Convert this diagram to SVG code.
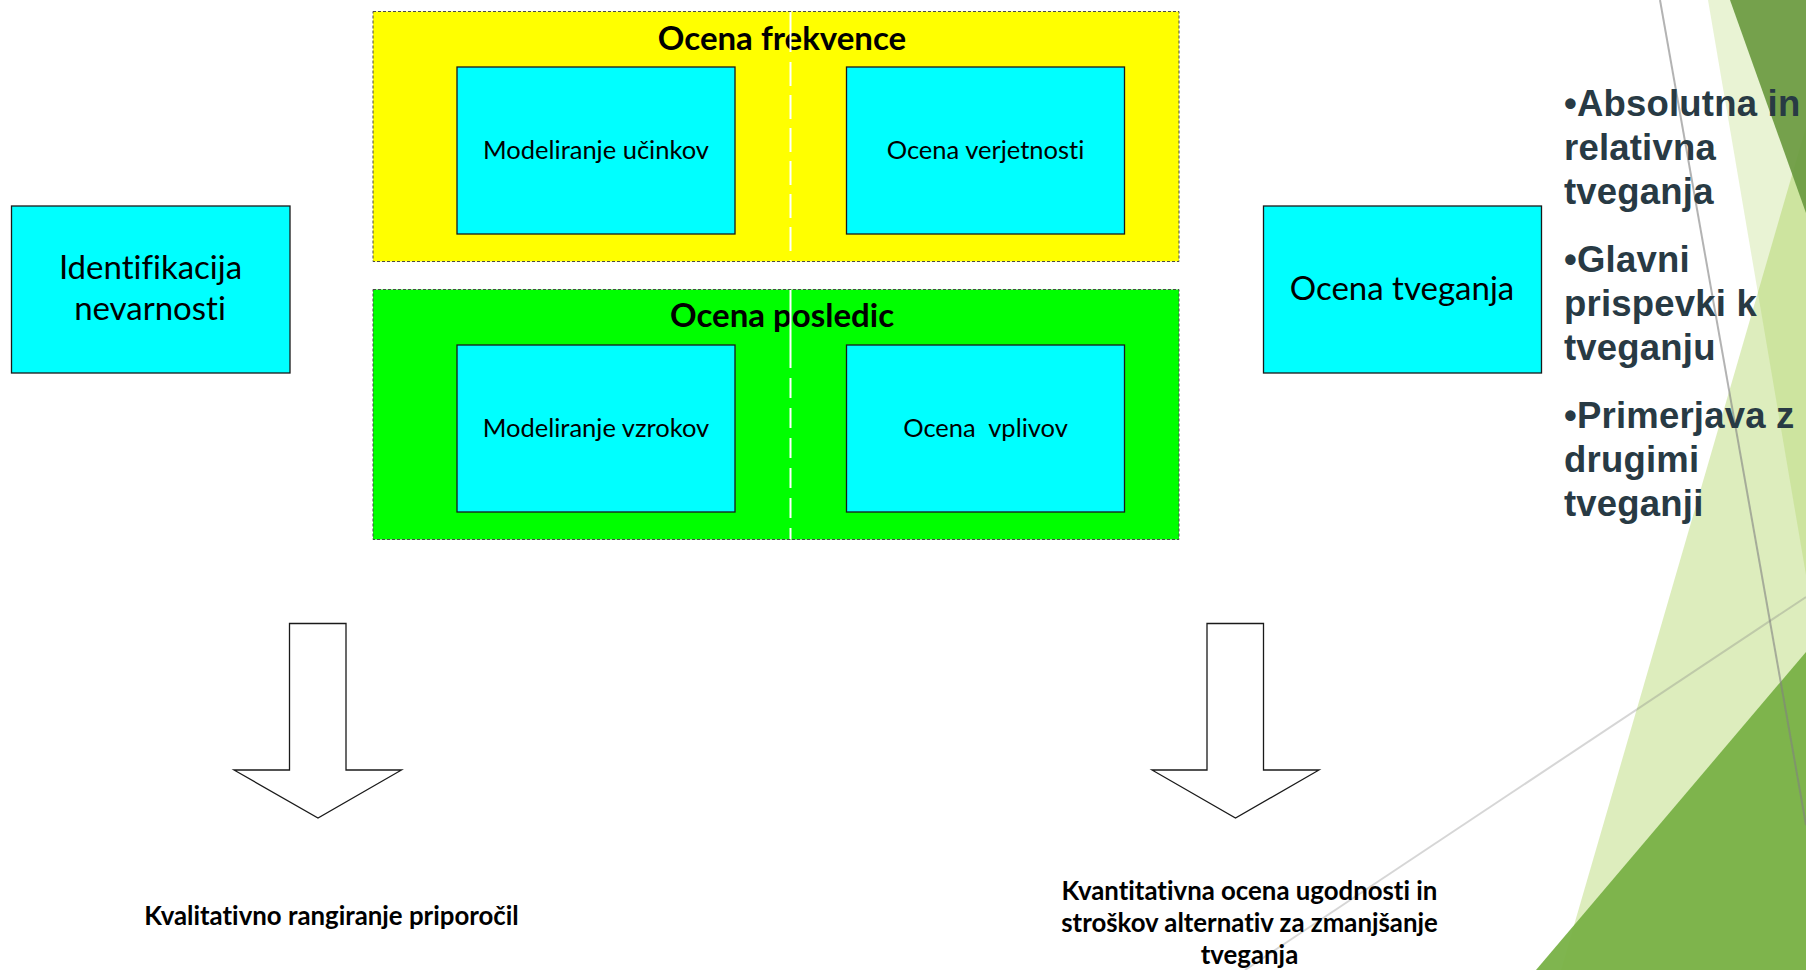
<svg xmlns="http://www.w3.org/2000/svg" width="1806" height="970" viewBox="0 0 1806 970">
<style>
text{font-variant-ligatures:none;font-feature-settings:"liga" 0,"dlig" 0}
.bg{fill:#ffffff}
.grp{stroke:#4a4a4a;stroke-width:1;stroke-dasharray:3 2}
.cy{fill:#00ffff;stroke:#1a1a1a;stroke-width:1.3}
.lbl{font-family:Lato,"Open Sans",sans-serif;fill:#000;text-anchor:middle}
.ttl{font-family:Lato,"Open Sans",sans-serif;font-weight:bold;fill:#000;text-anchor:middle;font-size:33px}
.arr{fill:#ffffff;stroke:#1a1a1a;stroke-width:1.3;stroke-linejoin:miter}
.bt{font-family:Lato,"Open Sans",sans-serif;font-weight:bold;fill:#000;text-anchor:middle;font-size:25.8px}
.bul{font-family:"Liberation Sans",Arial,sans-serif;font-weight:bold;fill:#283a44;font-size:36.5px;letter-spacing:0.2px}
</style>
<rect class="bg" x="0" y="0" width="1806" height="970"/>
<g id="decoration">
  <polygon points="1806,127 1806,970 1561,970" fill="#90c226" fill-opacity="0.3"/>
  <polygon points="1708,0 1806,0 1806,575" fill="#90c226" fill-opacity="0.2"/>
  <polygon points="1730,0 1806,0 1806,213" fill="#6a9a40" fill-opacity="0.92"/>
  <polygon points="1806,652 1806,970 1536,970" fill="#78b146" fill-opacity="0.95"/>
  <line x1="1660" y1="0" x2="1806" y2="825" stroke="#808080" stroke-opacity="0.6" stroke-width="2"/>
  <line x1="1806" y1="597" x2="1245" y2="970" stroke="#808080" stroke-opacity="0.32" stroke-width="2"/>
</g>
<g id="ocena-frekvence">
  <rect x="373" y="11.5" width="806" height="250" fill="#ffff00" class="grp"/>
  <text class="ttl" x="782" y="50">Ocena frekvence</text>
</g>
<g id="ocena-posledic">
  <rect x="373" y="289.5" width="806" height="250" fill="#00ff00" class="grp"/>
  <text class="ttl" x="782" y="327">Ocena posledic</text>
</g>
<g id="divider">
  <line x1="790.5" y1="12" x2="790.5" y2="261" stroke="#ffffff" stroke-width="2" stroke-dasharray="40 10 24 9 24 9 24 9 24 9 24 9 24 9 100"/>
  <line x1="790.5" y1="290" x2="790.5" y2="539" stroke="#ffffff" stroke-width="2" stroke-dasharray="78 10 20 10 20 10 20 10 20 10 20 10 200"/>
</g>
<g id="modeliranje-ucinkov">
  <rect class="cy" x="457" y="67" width="278" height="167"/>
  <text class="lbl" x="596" y="159" font-size="25.5">Modeliranje učinkov</text>
</g>
<g id="ocena-verjetnosti">
  <rect class="cy" x="846.5" y="67" width="278" height="167"/>
  <text class="lbl" x="985.5" y="159" font-size="25.5">Ocena verjetnosti</text>
</g>
<g id="modeliranje-vzrokov">
  <rect class="cy" x="457" y="345" width="278" height="167"/>
  <text class="lbl" x="596" y="437" font-size="25.5">Modeliranje vzrokov</text>
</g>
<g id="ocena-vplivov">
  <rect class="cy" x="846.5" y="345" width="278" height="167"/>
  <text class="lbl" x="985.5" y="437" font-size="25.5" xml:space="preserve">Ocena  vplivov</text>
</g>
<g id="identifikacija-nevarnosti">
  <rect class="cy" x="11.5" y="206" width="278.5" height="167"/>
  <text class="lbl" x="150.5" y="279" font-size="33">Identifikacija</text>
  <text class="lbl" x="150" y="320" font-size="33">nevarnosti</text>
</g>
<g id="ocena-tveganja">
  <rect class="cy" x="1263.5" y="206" width="278" height="167"/>
  <text class="lbl" x="1402" y="300" font-size="33">Ocena tveganja</text>
</g>
<g id="connectors">
  <polygon class="arr" points="289.5,623.5 346,623.5 346,770 401.5,770 318,818 234,770 289.5,770"/>
  <polygon class="arr" points="1207,623.5 1263.5,623.5 1263.5,770 1319,770 1235.5,818 1152,770 1207,770"/>
</g>
<g id="kvalitativno">
  <text class="bt" x="331.5" y="925">Kvalitativno rangiranje priporočil</text>
</g>
<g id="kvantitativno">
  <text class="bt" x="1249.5" y="900">Kvantitativna ocena ugodnosti in</text>
  <text class="bt" x="1249.5" y="932">stroškov alternativ za zmanjšanje</text>
  <text class="bt" x="1249.5" y="964">tveganja</text>
</g>
<g id="bullets">
  <text class="bul" x="1564" y="116">•Absolutna in</text>
  <text class="bul" x="1564" y="160">relativna</text>
  <text class="bul" x="1564" y="204">tveganja</text>
  <text class="bul" x="1564" y="272">•Glavni</text>
  <text class="bul" x="1564" y="316">prispevki k</text>
  <text class="bul" x="1564" y="360">tveganju</text>
  <text class="bul" x="1564" y="428">•Primerjava z</text>
  <text class="bul" x="1564" y="472">drugimi</text>
  <text class="bul" x="1564" y="516">tveganji</text>
</g>
</svg>
